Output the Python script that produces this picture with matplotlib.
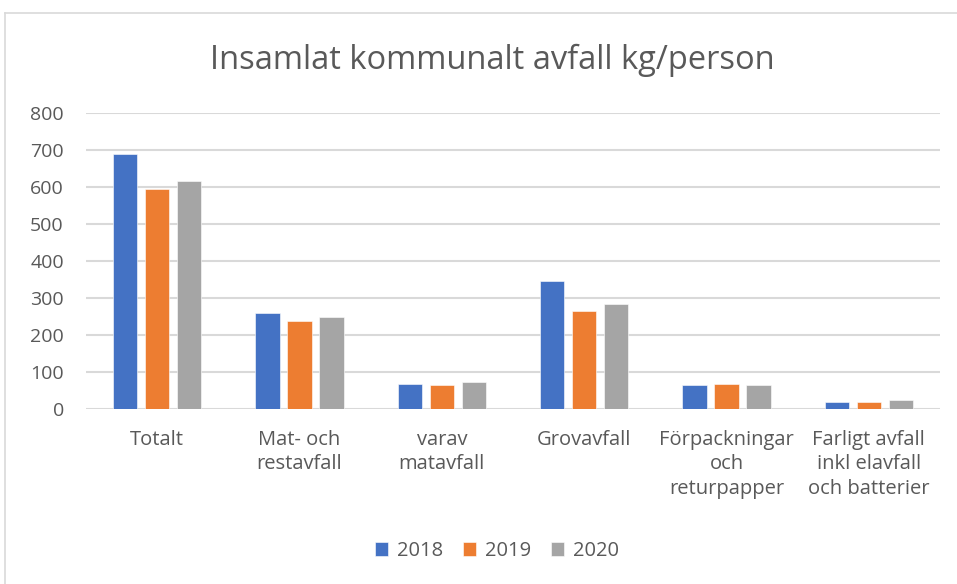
import numpy as np
import matplotlib.pyplot as plt
from matplotlib.lines import Line2D

categories = ["Totalt", "Mat- och\nrestavfall", "varav\nmatavfall", "Grovavfall",
              "Förpackningar\noch\nreturpapper", "Farligt avfall\ninkl elavfall\noch batterier"]
years = ["2018", "2019", "2020"]
v2018 = [689, 259, 67, 345, 65, 20]
v2019 = [595, 239, 64, 266, 68, 20]
v2020 = [616, 249, 72, 284, 65, 23]
yticks = [0, 100, 200, 300, 400, 500, 600, 700, 800]

colors = ["#4472C4", "#ED7D31", "#A5A5A5"]
plt.rcParams['font.family'] = ['Open Sans', 'DejaVu Sans']

fig = plt.figure(figsize=(9.57, 5.84), dpi=100)
ax = fig.add_axes([86/957, 1-409/584, 854/957, 296/584])

x = np.arange(len(categories))
w = 0.169
step = 0.225
for i, (vals, yr) in enumerate(zip([v2018, v2019, v2020], years)):
    ax.bar(x + (i-1)*step, vals, width=w, color=colors[i], label=yr, zorder=3,
           edgecolor="white", linewidth=0.4)

ax.set_xlim(-0.5, len(categories)-0.5)
ax.set_ylim(0, 800)
ax.set_yticks(yticks)
ax.yaxis.grid(True, color="#d9d9d9", linewidth=1.5, zorder=0)
for s in ax.spines.values():
    s.set_visible(False)
ax.tick_params(axis="y", length=0, labelsize=14, colors="#595959", pad=16)
ax.set_xticks(x)
ax.set_xticklabels(categories, linespacing=1.3, va="top")
ax.tick_params(axis="x", length=0, labelsize=14.5, colors="#595959", pad=15)

fig.text(492/957, 1-60/584, "Insamlat kommunalt avfall kg/person", ha="center", va="center",
         fontsize=23.5, color="#595959")

leg = fig.legend(loc="center", bbox_to_anchor=(497/957, 1-551/584), ncol=3, frameon=False,
                 fontsize=14.5, handlelength=0.65, handleheight=0.65, handletextpad=0.45,
                 columnspacing=1.0)
for t in leg.get_texts():
    t.set_color("#595959")

# chart border (partly cropped)
fig.add_artist(Line2D([5/957, 5/957], [0, 1-13/584], color="#d9d9d9", linewidth=1.2,
                      transform=fig.transFigure))
fig.add_artist(Line2D([5/957, 1], [1-13/584, 1-13/584], color="#d9d9d9", linewidth=1.2,
                      transform=fig.transFigure))

fig.savefig("out.png", dpi=100)
